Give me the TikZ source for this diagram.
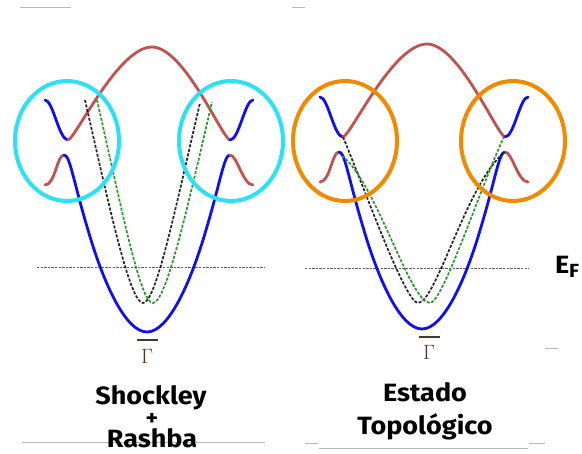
\documentclass[tikz,border=0pt]{standalone}
\usepackage{fontspec}
\newfontfamily\lblfont{Fira Sans}[FakeStretch=1.08]
\definecolor{bandred}{RGB}{192,82,80}
\definecolor{bandblue}{RGB}{15,15,240}
\definecolor{ringcyan}{RGB}{45,225,245}
\definecolor{ringorange}{RGB}{240,138,0}
\definecolor{dgreen}{RGB}{40,150,40}
\definecolor{dblack}{RGB}{35,35,35}
\definecolor{gammacol}{RGB}{75,55,40}
\begin{document}
\begin{tikzpicture}[x=1pt,y=-1pt,
  redband/.style={draw=bandred,line width=2.8pt,line cap=round},
  blueband/.style={draw=bandblue,line width=2.8pt,line cap=round},
  dashk/.style={draw=dblack,line width=1.7pt,dash pattern=on 3pt off 1.6pt},
  dashg/.style={draw=dgreen,line width=1.7pt,dash pattern=on 3pt off 1.6pt},
  ring/.style={line width=4pt},
  fermi/.style={draw=black!65,line width=0.9pt,dash pattern=on 2.4pt off 1.2pt},
  guide/.style={draw=black!28,line width=0.8pt},
  title/.style={font=\lblfont\bfseries\fontsize{25}{27}\selectfont,anchor=base,inner sep=0pt},
  gam/.style={font=\fontsize{21}{24}\selectfont,text=gammacol,inner sep=0pt}]
\useasboundingbox (0,0) rectangle (582,454);
\fill[white] (0,0) rectangle (582,454);

% slide guide lines
\draw[guide] (20,7) -- (71,7);
\draw[guide] (292,7) -- (305,7);
\draw[guide] (22,442) -- (265,442);
\draw[guide] (319,448) -- (528,448);
\draw[guide] (305,443) -- (318,443);
\draw[guide] (529,443) -- (545,443);
\draw[guide] (545,348) -- (558,348);

% Fermi levels
\draw[fermi] (37,267) -- (265,267);
\draw[fermi] (305,268) -- (529,268);

% band structure (left panel coordinates), reused in right panel
\newcommand{\drawbands}{%
  \draw[blueband] (45,100) .. controls (53,100) and (59,140) .. (68,140);
  \draw[redband] (68,140) .. controls (76,138) and (118,47) .. (152,47)
                          .. controls (184,47) and (222,138) .. (230,140);
  \draw[blueband] (230,140) .. controls (239,140) and (245,100) .. (253,100);
  \draw[redband] (45,185) .. controls (55,185) and (57,155) .. (64,155);
  \draw[blueband] (64,155) .. controls (70,155) and (73,180) .. (88,230)
                           .. controls (104,285) and (126,332) .. (147,332)
                           .. controls (168,332) and (190,285) .. (206,230)
                           .. controls (221,180) and (224,155) .. (230,155);
  \draw[redband] (230,155) .. controls (237,155) and (243,185) .. (253,185);
}
\drawbands
\begin{scope}[shift={(275,-3)}]
\drawbands
\end{scope}

% Shockley + Rashba dashed bands
\draw[dashk] (85,100) .. controls (110,210) and (130,303) .. (143,303)
                      .. controls (156,303) and (175,210) .. (200,103);
\draw[dashg] (97,100) .. controls (122,210) and (140,303) .. (153,303)
                      .. controls (166,303) and (187,210) .. (212,102);

% topological dashed bands
\draw[dashk] (343,137) .. controls (362,182) and (405,303) .. (418,303)
                       .. controls (436,303) and (468,180) .. (505,152);
\draw[dashg] (342,156) .. controls (375,180) and (410,303) .. (430,303)
                       .. controls (443,303) and (483,180) .. (504,137);

% rings
\draw[ring,ringcyan] (67,141) ellipse [x radius=52,y radius=60];
\draw[ring,ringcyan] (231,141) ellipse [x radius=52,y radius=60];
\draw[ring,ringorange] (345,141) ellipse [x radius=52,y radius=60];
\draw[ring,ringorange] (513,141) ellipse [x radius=52,y radius=60];

% Gamma labels
\node[gam] (g1) at (147,356) {$\Gamma$};
\draw[gammacol,line width=1.3pt] (137,340) -- (158,340);
\node[gam] (g2) at (429,352) {$\Gamma$};
\draw[gammacol,line width=1.3pt] (419,337) -- (440,337);

% titles
\node[title] (t1) at (151,405) {Shockley};
\node[title,font=\lblfont\bfseries\fontsize{22}{24}\selectfont] (t2) at (152,426) {+};
\node[title] (t3) at (152,448) {Rashba};
\node[title] (t4) at (425,402) {Estado};
\node[title] (t5) at (425,435) {Topológico};
\node[title,anchor=base west] (ef) at (555,274) {E};
\node[title,anchor=base west,font=\lblfont\bfseries\fontsize{19}{21}\selectfont] (f) at (569,278) {F};
\end{tikzpicture}
\end{document}
